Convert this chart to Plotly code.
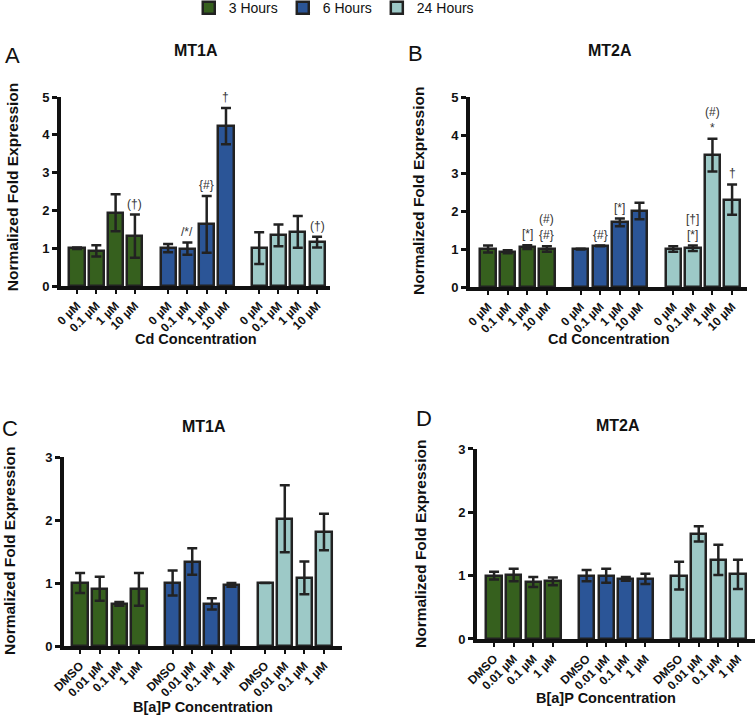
import plotly.graph_objects as go

# ---------------- data ----------------
series_names = ["3 Hours", "6 Hours", "24 Hours"]
series_colors = ["#36601e", "#2b5597", "#9dc9c7"]

cd_labels = ["0 µM", "0.1 µM", "1 µM", "10 µM"]
bap_labels = ["DMSO", "0.01 µM", "0.1 µM", "1 µM"]

# Panel A: MT1A, Cd
a_vals = [[1.00, 0.93, 1.94, 1.32], [1.00, 0.99, 1.63, 4.23], [1.00, 1.34, 1.43, 1.16]]
a_errs = [[0.02, 0.15, 0.49, 0.57], [0.11, 0.16, 0.75, 0.48], [0.42, 0.29, 0.42, 0.14]]
# Panel B: MT2A, Cd
b_vals = [[1.00, 0.93, 1.05, 1.00], [1.00, 1.08, 1.70, 2.00], [1.00, 1.02, 3.47, 2.30]]
b_errs = [[0.09, 0.04, 0.05, 0.07], [0.01, 0.01, 0.10, 0.22], [0.07, 0.07, 0.43, 0.40]]
# Panel C: MT1A, B[a]P
c_vals = [[1.00, 0.91, 0.67, 0.90], [1.00, 1.34, 0.67, 0.97], [1.00, 2.02, 1.08, 1.81]]
c_errs = [[0.16, 0.19, 0.03, 0.26], [0.20, 0.21, 0.09, 0.03], [0.00, 0.53, 0.26, 0.29]]
# Panel D: MT2A, B[a]P
d_vals = [[1.00, 1.01, 0.90, 0.91], [1.00, 1.00, 0.95, 0.95], [1.00, 1.66, 1.25, 1.02]]
d_errs = [[0.06, 0.10, 0.08, 0.06], [0.09, 0.11, 0.03, 0.08], [0.22, 0.12, 0.24, 0.23]]

# significance labels: (series index, bar index, text)
a_marks = [(0, 3, "(†)"), (1, 1, "/*/"), (1, 2, "{#}"), (1, 3, "†"), (2, 3, "(†)")]
b_marks = [(0, 2, "[*]"), (0, 3, "(#)<br>{#}"), (1, 1, "{#}"), (1, 2, "[*]"),
           (2, 1, "[†]<br>[*]"), (2, 2, "(#)<br>*"), (2, 3, "†")]

# ---------------- layout constants ----------------
GROUP_STEP = 4.72
BAR_W = 0.78
FONT = "Liberation Sans"

panels = [
    dict(vals=a_vals, errs=a_errs, labels=cd_labels, marks=a_marks, ymax=5,
         xdom=[0.0808, 0.4371], ydom=[0.6011, 0.8647], xr=[-0.83, 13.11],
         letter="A", letter_xy=(0.0159, 0.923), title="MT1A", title_xy=(0.2596, 0.9289),
         ylab_xy=(0.0159, 0.739), xtitle="Cd Concentration", xtitle_xy=(0.2596, 0.527)),
    dict(vals=b_vals, errs=b_errs, labels=cd_labels, marks=b_marks, ymax=5,
         xdom=[0.6225, 0.9894], ydom=[0.5997, 0.8647], xr=[-0.92, 13.2],
         letter="B", letter_xy=(0.5497, 0.9247), title="MT2A", title_xy=(0.808, 0.9289),
         ylab_xy=(0.5536, 0.7336), xtitle="Cd Concentration", xtitle_xy=(0.806, 0.527)),
    dict(vals=c_vals, errs=c_errs, labels=bap_labels, marks=[], ymax=3,
         xdom=[0.0848, 0.4530], ydom=[0.0990, 0.3626], xr=[-0.82, 13.36],
         letter="C", letter_xy=(0.0132, 0.403), title="MT1A", title_xy=(0.270, 0.4045),
         ylab_xy=(0.0119, 0.2315), xtitle="B[a]P Concentration", xtitle_xy=(0.2689, 0.0139)),
    dict(vals=d_vals, errs=d_errs, labels=bap_labels, marks=[], ymax=3,
         xdom=[0.6318, 1.0], ydom=[0.1088, 0.3738], xr=[-0.87, 13.31],
         letter="D", letter_xy=(0.5616, 0.417), title="MT2A", title_xy=(0.8185, 0.4059),
         ylab_xy=(0.5576, 0.2413), xtitle="B[a]P Concentration", xtitle_xy=(0.8026, 0.0265)),
]

fig = go.Figure()
annotations = []
layout_axes = {}

for p_i, p in enumerate(panels):
    n = "" if p_i == 0 else str(p_i + 1)
    xa, ya = "x" + n, "y" + n
    all_x, all_t = [], []
    for s_i, name in enumerate(series_names):
        xs = [i + s_i * GROUP_STEP for i in range(len(p["labels"]))]
        all_x += xs
        all_t += p["labels"]
        fig.add_trace(go.Bar(
            x=xs, y=p["vals"][s_i], name=name, width=BAR_W,
            marker=dict(color=series_colors[s_i], line=dict(color="#222222", width=2.5)),
            error_y=dict(type="data", array=p["errs"][s_i], color="#222222",
                         thickness=2.5, width=5),
            xaxis=xa, yaxis=ya, showlegend=(p_i == 0), legendgroup=name,
        ))
    for (s_i, b_i, txt) in p["marks"]:
        annotations.append(dict(
            x=b_i + s_i * GROUP_STEP, y=p["vals"][s_i][b_i] + p["errs"][s_i][b_i],
            xref=xa, yref=ya, text=txt, showarrow=False, yanchor="bottom", yshift=2,
            font=dict(family=FONT, size=12, color="#333333")))
    layout_axes["xaxis" + n] = dict(
        domain=p["xdom"], range=p["xr"], anchor=ya, tickmode="array",
        tickvals=all_x, ticktext=all_t, tickangle=-45,
        tickfont=dict(family=FONT, size=12, color="#111111", weight="bold"),
        showline=True, linecolor="#111111", linewidth=4, ticks="outside",
        ticklen=4, tickwidth=2, tickcolor="#111111", showgrid=False, zeroline=False,
        fixedrange=True)
    layout_axes["yaxis" + n] = dict(
        domain=p["ydom"], range=[0, p["ymax"]], anchor=xa, tickmode="array",
        tickvals=list(range(p["ymax"] + 1)),
        tickfont=dict(family=FONT, size=13, color="#111111", weight="bold"),
        showline=True, linecolor="#111111", linewidth=4, ticks="outside",
        ticklen=5, tickwidth=3, tickcolor="#111111", showgrid=False, zeroline=False,
        fixedrange=True)
    annotations.append(dict(x=p["letter_xy"][0], y=p["letter_xy"][1], xref="paper", yref="paper",
                            text=p["letter"], showarrow=False, xanchor="center", yanchor="middle",
                            font=dict(family=FONT, size=22, color="#111111")))
    annotations.append(dict(x=p["title_xy"][0], y=p["title_xy"][1], xref="paper", yref="paper",
                            text="<b>" + p["title"] + "</b>", showarrow=False,
                            xanchor="center", yanchor="middle",
                            font=dict(family=FONT, size=16, color="#111111")))
    annotations.append(dict(x=p["ylab_xy"][0], y=p["ylab_xy"][1], xref="paper", yref="paper",
                            text="<b>Normalized Fold Expression</b>", showarrow=False,
                            textangle=-90, xanchor="center", yanchor="middle",
                            font=dict(family=FONT, size=15.5, color="#111111")))
    annotations.append(dict(x=p["xtitle_xy"][0], y=p["xtitle_xy"][1], xref="paper", yref="paper",
                            text="<b>" + p["xtitle"] + "</b>", showarrow=False,
                            xanchor="center", yanchor="middle",
                            font=dict(family=FONT, size=14.5, color="#111111")))

fig.update_layout(
    width=755, height=717, margin=dict(l=0, r=0, t=0, b=0, autoexpand=False),
    paper_bgcolor="white", plot_bgcolor="white",
    barmode="overlay", bargap=0,
    showlegend=True,
    legend=dict(orientation="h", x=0.25, xanchor="left", y=1.011, yanchor="top",
                font=dict(family=FONT, size=14, color="#111111"),
                bgcolor="rgba(0,0,0,0)", itemclick=False, itemdoubleclick=False),
    annotations=annotations,
    **layout_axes,
)

fig.write_html("out.html", config={"displayModeBar": False},
               post_script="document.body.style.margin='0';document.body.style.padding='0';")
